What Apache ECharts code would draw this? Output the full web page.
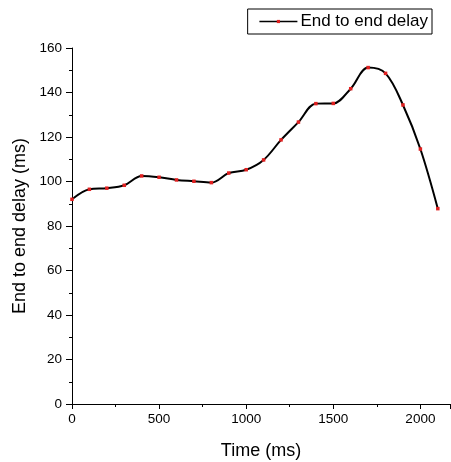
<!DOCTYPE html>
<html>
<head>
<meta charset="utf-8">
<script src="https://cdn.jsdelivr.net/npm/echarts@6/dist/echarts.min.js"></script>
<style>
  html, body { margin: 0; padding: 0; background: #fff; }
  #chart { width: 451px; height: 462px; }
</style>
</head>
<body>
<div id="chart"></div>
<script>
// time (ms) and delay (ms)
var times = [0, 100, 200, 300, 400, 500, 600, 700, 800, 900, 1000,
  1100, 1200, 1300, 1400, 1500, 1600, 1700, 1800, 1900, 2000, 2100];
var delays = [92, 96.5, 97, 98.3, 102.5, 101.9, 100.7, 100.1, 99.5, 103.8, 105.3,
  109.7, 118.7, 126.7, 135, 135.1, 141.7, 151.2, 148.6, 134.4, 114.6, 87.8];

var points = [];
for (var i = 0; i < times.length; i++) {
  points.push([times[i], delays[i]]);
}

var chart = echarts.init(document.getElementById('chart'));
chart.setOption({
  animation: false,
  textStyle: { fontFamily: 'Liberation Sans, Arial, sans-serif' },
  legend: {
    right: 19,
    top: 9,
    padding: [4, 4, 4, 11],
    borderColor: '#000',
    borderWidth: 1,
    borderRadius: 0,
    itemWidth: 38,
    itemHeight: 4,
    itemGap: 4,
    lineStyle: { width: 1.5 },
    textStyle: { fontSize: 17, color: '#000', padding: [0, 0, 0, -2] },
    data: ['End to end delay']
  },
  grid: { left: 72, right: 1, top: 48, bottom: 58, outerBoundsMode: 'none' },
  xAxis: {
    type: 'value',
    min: 0,
    max: 2170,
    interval: 500,
    name: 'Time (ms)',
    nameLocation: 'middle',
    nameGap: 38,
    nameTextStyle: { fontSize: 18, color: '#000' },
    axisLine: { lineStyle: { color: '#000', width: 1 } },
    axisTick: { show: true, length: 5, lineStyle: { color: '#000' } },
    minorTick: { show: true, splitNumber: 2, length: 3, lineStyle: { color: '#000' } },
    axisLabel: {
      fontSize: 13.5, color: '#000', margin: 8, showMaxLabel: false,
      formatter: function (v) { return String(v); }
    },
    splitLine: { show: false }
  },
  yAxis: {
    type: 'value',
    min: 0,
    max: 160,
    interval: 20,
    name: 'End to end delay (ms)',
    nameLocation: 'middle',
    nameGap: 41,
    nameTextStyle: { fontSize: 18, color: '#000' },
    axisLine: { show: true, lineStyle: { color: '#000', width: 1 } },
    axisTick: { show: true, length: 6, lineStyle: { color: '#000' } },
    minorTick: { show: true, splitNumber: 2, length: 3, lineStyle: { color: '#000' } },
    axisLabel: { fontSize: 13.5, color: '#000', margin: 10 },
    splitLine: { show: false }
  },
  series: [{
    name: 'End to end delay',
    type: 'line',
    data: points,
    smooth: 0.35,
    symbol: 'rect',
    symbolSize: 3.5,
    lineStyle: { color: '#000', width: 2 },
    itemStyle: { color: '#e02020' }
  }]
});
</script>
</body>
</html>
